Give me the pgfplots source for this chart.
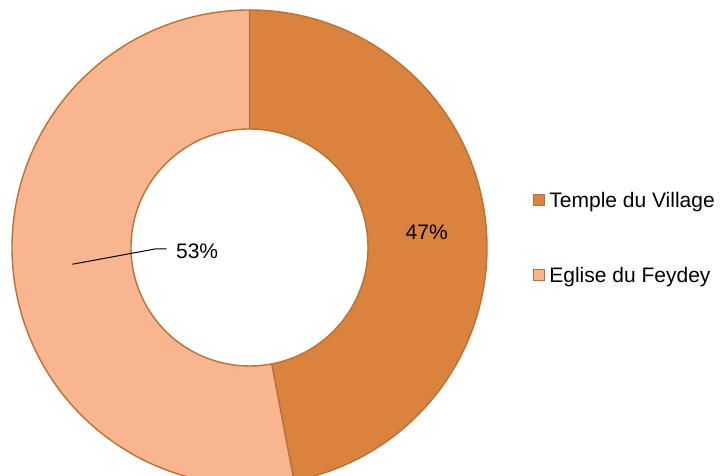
\documentclass[border=0pt]{standalone}
\usepackage{pgfplots}
\usepackage{pgfplotstable}
\pgfplotsset{compat=1.18}
\usepackage{fontspec}
\setmainfont{Liberation Sans}
\definecolor{darkor}{RGB}{218,131,62}
\definecolor{lightor}{RGB}{248,181,143}
\definecolor{bord}{RGB}{188,112,52}
\pgfplotstableread{
label value
{Temple du Village} 47
{Eglise du Feydey} 53
}\data
\begin{document}
\begin{tikzpicture}
\pgfplotstablegetelem{0}{value}\of\data \let\va\pgfplotsretval
\pgfplotstablegetelem{1}{value}\of\data \let\vb\pgfplotsretval
\pgfmathsetmacro\tot{\va+\vb}
\pgfmathsetmacro\fA{\va/\tot}
\pgfmathsetmacro\fB{\vb/\tot}
\pgfmathsetmacro\aA{90-360*\fA}
\pgfmathsetmacro\aB{\aA-360*\fB}
\pgfmathsetmacro\mA{(90+\aA)/2}
\pgfmathsetmacro\mB{(\aA+\aB)/2}
\pgfmathtruncatemacro\pA{round(100*\fA)}
\pgfmathtruncatemacro\pB{round(100*\fB)}
% geometry in image pixels (y measured upward), 1px = 0.5pt
\def\cx{249.5}\def\cy{228.5}
\def\Ro{118.75pt}\def\Ri{59.25pt}
\pgfmathsetmacro\rmid{(237.5+118.5)/2}
\pgfmathsetmacro\lxA{\cx+\rmid*cos(\mA)}\pgfmathsetmacro\lyA{\cy+\rmid*sin(\mA)}
\pgfmathsetmacro\lxB{\cx+\rmid*cos(\mB)}\pgfmathsetmacro\lyB{\cy+\rmid*sin(\mB)}
\begin{axis}[
  anchor=origin, at={(0,0)},
  width=360pt, height=238pt, scale only axis,
  xmin=0, xmax=720, ymin=0, ymax=476,
  hide axis, clip=true,
]
\filldraw[fill=darkor, draw=bord, line width=0.7pt, line join=round]
  ([shift={(90:\Ro)}]axis cs:\cx,\cy) arc[start angle=90, end angle=\aA, radius=\Ro]
  -- ([shift={(\aA:\Ri)}]axis cs:\cx,\cy) arc[start angle=\aA, end angle=90, radius=\Ri] -- cycle;
\filldraw[fill=lightor, draw=bord, line width=0.7pt, line join=round]
  ([shift={(\aA:\Ro)}]axis cs:\cx,\cy) arc[start angle=\aA, end angle=\aB, radius=\Ro]
  -- ([shift={(\aB:\Ri)}]axis cs:\cx,\cy) arc[start angle=\aB, end angle=\aA, radius=\Ri] -- cycle;
% data labels
\node[anchor=base, inner sep=0pt, font=\fontsize{10.5pt}{12pt}\selectfont] at (axis cs:\lxA,236) {\pA\%};
\draw[black, line width=0.5pt] (axis cs:\lxB,\lyB) -- (axis cs:155,227) -- (axis cs:166.7,227);
\node[anchor=base west, inner sep=0pt, font=\fontsize{10.5pt}{12pt}\selectfont] at (axis cs:175.7,217.7) {\pB\%};
% legend
\filldraw[fill=darkor, draw=bord, line width=0.6pt] (axis cs:533.5,270.5) rectangle (axis cs:544.5,281.5);
\node[anchor=base west, inner sep=0pt, font=\fontsize{10.5pt}{12pt}\selectfont] at (axis cs:549,268.5) {Temple du Village};
\filldraw[fill=lightor, draw=bord, line width=0.6pt] (axis cs:533.5,195.5) rectangle (axis cs:544.5,206.5);
\node[anchor=base west, inner sep=0pt, font=\fontsize{10.5pt}{12pt}\selectfont] at (axis cs:549,193.5) {Eglise du Feydey};
\end{axis}
\pgfresetboundingbox
\path[use as bounding box] (0,0) rectangle (360pt,238pt);
\end{tikzpicture}
\end{document}
